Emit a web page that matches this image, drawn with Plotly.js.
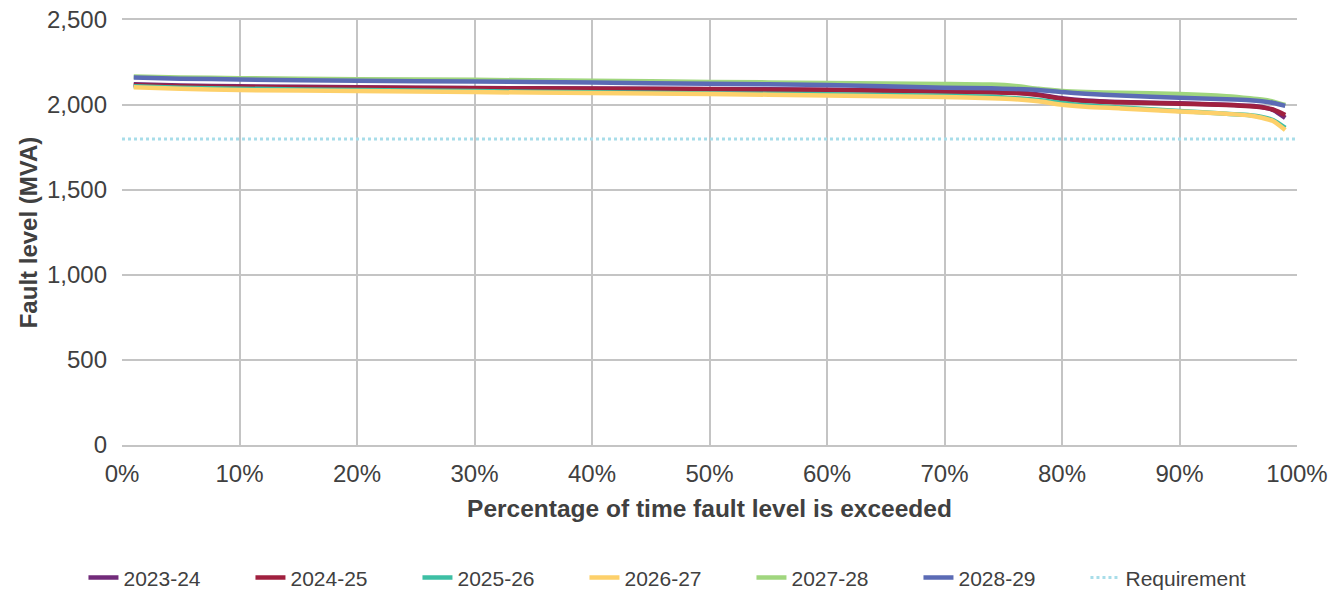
<!DOCTYPE html>
<html><head><meta charset="utf-8">
<script src="https://cdn.plot.ly/plotly-3.0.1.min.js"></script>
<style>html,body{margin:0;padding:0;background:#fff}#c{width:1344px;height:592px}</style>
</head><body><div id="c"></div>
<script>
const pct = [1, 5, 10, 20, 30, 40, 50, 60, 70, 74, 76, 78, 80, 82, 85, 90, 94, 96, 97, 98, 99];
const s2023 = [2122, 2115, 2110, 2104, 2100, 2097, 2094, 2090, 2082, 2078, 2074, 2062, 2040, 2027, 2018, 2010, 2002, 1995, 1988, 1970, 1924];
const s2024 = [2116, 2110, 2106, 2101, 2098, 2095, 2092, 2088, 2078, 2074, 2071, 2058, 2035, 2024, 2016, 2008, 2000, 1993, 1986, 1972, 1941];
const s2025 = [2110, 2102, 2096, 2088, 2082, 2075, 2068, 2063, 2055, 2048, 2040, 2030, 2012, 1998, 1985, 1965, 1948, 1940, 1930, 1910, 1865];
const s2026 = [2104, 2095, 2088, 2082, 2076, 2070, 2065, 2056, 2047, 2040, 2034, 2022, 2002, 1990, 1980, 1962, 1948, 1938, 1925, 1905, 1853];
const s2027 = [2168, 2162, 2158, 2152, 2148, 2142, 2136, 2130, 2124, 2120, 2112, 2095, 2082, 2076, 2072, 2065, 2052, 2040, 2032, 2020, 2000];
const s2028 = [2162, 2155, 2150, 2142, 2138, 2132, 2125, 2118, 2102, 2098, 2094, 2088, 2076, 2066, 2056, 2042, 2034, 2028, 2022, 2012, 1995];
const reqX = [0, 100];
const reqY = [1800, 1800];
const names = ['2023-24', '2024-25', '2025-26', '2026-27', '2027-28', '2028-29'];
const colors = ['#722B7A', '#A0203F', '#3DBFA4', '#FDD06A', '#A0D67E', '#5B6BB5'];
const series = [s2023, s2024, s2025, s2026, s2027, s2028];

const traces = series.map((s, i) => ({
  x: pct, y: s, name: names[i], type: 'scatter', mode: 'lines',
  line: {color: colors[i], width: 4.5, shape: 'spline', smoothing: 0.6}
}));
traces.push({x: reqX, y: reqY, name: 'Requirement', type: 'scatter', mode: 'lines',
  line: {color: '#A8DDE9', width: 3, dash: 'dot'}});

const layout = {
  width: 1344, height: 592,
  margin: {l: 122, r: 47, t: 20, b: 147},
  paper_bgcolor: '#fff', plot_bgcolor: '#fff',
  font: {family: 'Liberation Sans, Arial, sans-serif', color: '#404040', size: 24},
  xaxis: {
    range: [0, 100], tickvals: [0,10,20,30,40,50,60,70,80,90,100],
    ticktext: ['0%','10%','20%','30%','40%','50%','60%','70%','80%','90%','100%'],
    showgrid: true, gridcolor: '#C4C4C4', gridwidth: 2, zeroline: false,
    showline: true, linecolor: '#C4C4C4', linewidth: 2, mirror: true,
    ticks: '', tickfont: {size: 24, color: '#404040'}, ticklabelstandoff: 6,
    automargin: false,
    title: {text: '<b>Percentage of time fault level is exceeded</b>', font: {size: 24.5, color: '#404040'}, standoff: 14}
  },
  yaxis: {
    range: [0, 2500], tickvals: [0, 500, 1000, 1500, 2000, 2500],
    ticktext: ['0', '500', '1,000', '1,500', '2,000', '2,500'],
    showgrid: true, gridcolor: '#C4C4C4', gridwidth: 2, zeroline: false,
    showline: false, ticks: '', tickfont: {size: 24, color: '#404040'}, ticklabelstandoff: 14,
    automargin: false,
    title: {text: '<b>Fault level (MVA)</b>', font: {size: 24, color: '#404040'}, standoff: 2}
  },
  legend: {orientation: 'h', xref: 'container', yref: 'container', x: 0.497, xanchor: 'center', y: 0.024, yanchor: 'middle',
    font: {size: 21, color: '#404040'}, entrywidth: 122, entrywidthmode: 'pixels'},
  showlegend: true
};
Plotly.newPlot('c', traces, layout, {displayModeBar: false, staticPlot: true});
</script></body></html>
